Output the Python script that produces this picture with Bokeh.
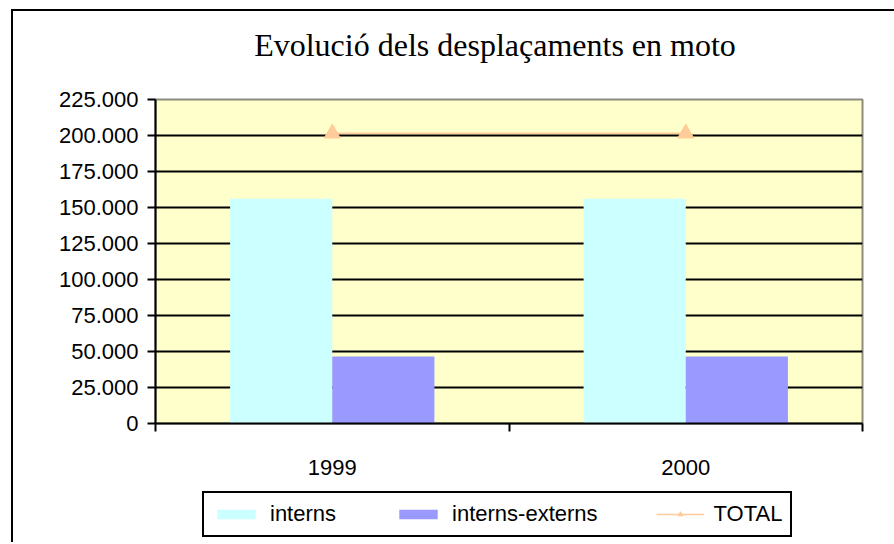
from bokeh.plotting import figure
from bokeh.models import (ColumnDataSource, FixedTicker, Legend, LegendItem, Range1d, Label)
from bokeh.layouts import column
from bokeh.transform import dodge
from bokeh.embed import file_html
from bokeh.resources import INLINE

title_text = "Evolució dels desplaçaments en moto"
years = ["1999", "2000"]
interns = [156000, 156000]
interns_externs = [46500, 46500]
total = [201500, 201500]
y_ticks = [0, 25000, 50000, 75000, 100000, 125000, 150000, 175000, 200000, 225000]
y_tick_labels = ["0", "25.000", "50.000", "75.000", "100.000", "125.000",
                 "150.000", "175.000", "200.000", "225.000"]

CYAN, PURPLE, ORANGE = "#CCFFFF", "#9999FF", "#FFCC99"
n = len(years)
centers = [i + 0.5 for i in range(n)]
src = ColumnDataSource(dict(x=centers, interns=interns, ie=interns_externs, total=total))


def blank(h, xr, yr):
    f = figure(width=881, height=h, x_range=xr, y_range=yr,
               x_axis_location=None, y_axis_location=None, title=None,
               min_border=0, output_backend="svg", toolbar_location=None)
    f.outline_line_color = None
    f.grid.visible = False
    f.background_fill_color = "white"
    f.border_fill_color = "white"
    return f


# ---- title strip ----
p0 = blank(72, Range1d(0, 1), Range1d(0, 1))
p0.add_layout(Label(x=0.5, y=0.5, x_offset=-14, y_offset=3, text=title_text,
                    text_align="center", text_baseline="middle",
                    text_font="Liberation Serif", text_font_size="32px", text_color="black"))

# ---- main chart ----
p = figure(width=881, height=401, x_range=Range1d(0, n), y_range=Range1d(0, y_ticks[-1]),
           output_backend="svg", toolbar_location=None, title=None,
           min_border_left=142, min_border_right=32, min_border_top=16, min_border_bottom=61)
p.background_fill_color = "#FFFFCC"
p.border_fill_color = "white"
p.outline_line_color = "#8c8c80"
p.outline_line_width = 2

p.yaxis.ticker = FixedTicker(ticks=y_ticks)
p.yaxis.major_label_overrides = {t: l for t, l in zip(y_ticks, y_tick_labels)}
p.yaxis.major_tick_out = 8
p.yaxis.major_tick_in = 0
p.yaxis.minor_tick_line_color = None
p.yaxis.axis_line_color = "black"
p.yaxis.axis_line_width = 2
p.yaxis.major_tick_line_width = 2
p.yaxis.major_label_text_font = "Liberation Sans"
p.yaxis.major_label_text_font_size = "22px"
p.yaxis.major_label_text_color = "black"
p.yaxis.major_label_standoff = 9

p.xaxis.ticker = FixedTicker(ticks=centers, minor_ticks=[float(i) for i in range(n + 1)])
p.xaxis.major_label_overrides = {c: y for c, y in zip(centers, years)}
p.xaxis.major_tick_out = 0
p.xaxis.major_tick_in = 0
p.xaxis.minor_tick_out = 8
p.xaxis.minor_tick_in = 0
p.xaxis.minor_tick_line_width = 2
p.xaxis.minor_tick_line_color = "black"
p.xaxis.axis_line_color = "black"
p.xaxis.axis_line_width = 2
p.xaxis.major_label_text_font = "Liberation Sans"
p.xaxis.major_label_text_font_size = "22px"
p.xaxis.major_label_text_color = "black"
p.xaxis.major_label_standoff = 28

p.xgrid.visible = False
p.ygrid.ticker = FixedTicker(ticks=y_ticks)
p.ygrid.grid_line_color = "black"
p.ygrid.grid_line_width = 2

bw = 0.289
p.vbar(x=dodge("x", -bw / 2, range=p.x_range), top="interns", width=bw, source=src,
       fill_color=CYAN, line_color=None)
p.vbar(x=dodge("x", bw / 2, range=p.x_range), top="ie", width=bw, source=src,
       fill_color=PURPLE, line_color=None)
p.line(x="x", y="total", source=src, line_color=ORANGE, line_width=1.5)
p.scatter(x="x", y="total", source=src, marker="triangle", size=16,
          fill_color=ORANGE, line_color=ORANGE)

# ---- legend strip (proxy renderers sit outside this strip's visible ranges) ----
p2 = blank(58, Range1d(-20, -10), Range1d(-20, -10))
l1 = p2.vbar(x="x", top="interns", width=0.1, source=src, fill_color=CYAN, line_color=None)
l2 = p2.vbar(x="x", top="ie", width=0.1, source=src, fill_color=PURPLE, line_color=None)
l3 = p2.line(x="x", y="total", source=src, line_color=ORANGE, line_width=1.5)
l4 = p2.scatter(x="x", y="total", source=src, marker="triangle", size=16,
                fill_color=ORANGE, line_color=ORANGE)
legend = Legend(items=[LegendItem(label="interns", renderers=[l1]),
                       LegendItem(label="interns-externs", renderers=[l2]),
                       LegendItem(label="TOTAL", renderers=[l3, l4])],
                orientation="horizontal", location=(47, 5),
                border_line_color="black", border_line_width=2, border_line_alpha=1,
                background_fill_color="white", background_fill_alpha=1,
                label_text_font="Liberation Sans", label_text_font_size="22px",
                label_text_color="black",
                glyph_width=48, glyph_height=12, spacing=58, padding=8, margin=0,
                label_standoff=10)
p2.add_layout(legend, "center")

layout = column(p0, p, p2, spacing=0)
layout.styles = {"margin-left": "11px", "margin-top": "9px",
                 "border-left": "2px solid black", "border-top": "2px solid black"}

open("out.html", "w").write(file_html(layout, INLINE))
